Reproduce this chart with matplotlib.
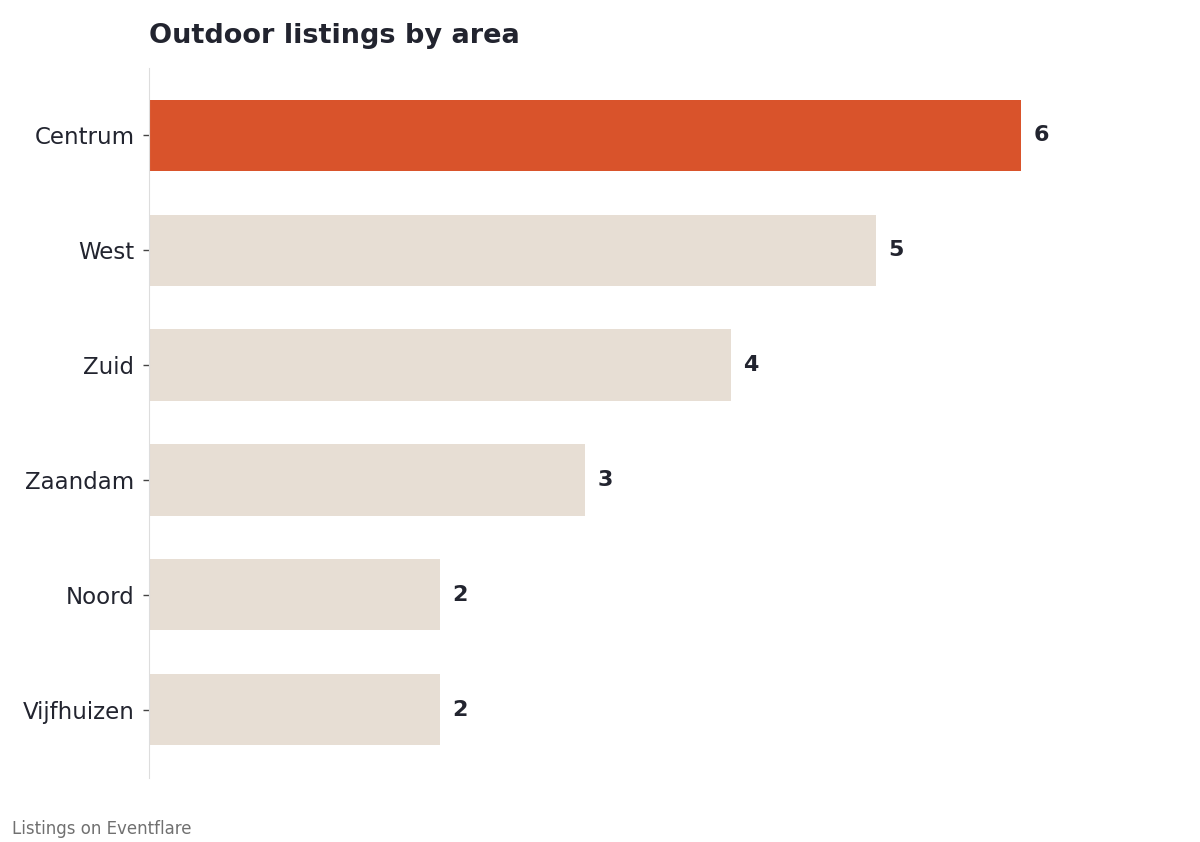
import matplotlib
matplotlib.use("Agg")
import matplotlib.pyplot as plt

areas = ["Centrum", "West", "Zuid", "Zaandam", "Noord", "Vijfhuizen"]
counts = [6, 5, 4, 3, 2, 2]

dark = "#22242f"
highlight = "#d9532b"
muted = "#e7ded4"

fig = plt.figure(figsize=(12, 8.42), dpi=100)
ax = fig.add_axes([0.1242, 1 - 777.5 / 842, 0.836, 710 / 842])

colors = [highlight if i == 0 else muted for i in range(len(areas))]
ypos = list(range(len(areas)))
ax.barh(ypos, counts, height=0.62, color=colors)
ax.invert_yaxis()
ax.set_xlim(0, max(counts) * 1.15)

for y, v in zip(ypos, counts):
    ax.text(v + 0.085, y, str(v), va="center", ha="left",
            fontsize=16, fontweight="bold", color=dark)

ax.set_yticks(ypos)
ax.set_yticklabels(areas, fontsize=16.5, color=dark)
ax.tick_params(axis="y", length=4.5, width=1, color="#444444", pad=6)
ax.set_xticks([])
for side in ["top", "right", "bottom"]:
    ax.spines[side].set_visible(False)
ax.spines["left"].set_color("#dddddd")

fig.text(149 / 1200, 1 - 36 / 842, "Outdoor listings by area", fontsize=19.5,
         fontweight="bold", color=dark, ha="left", va="center")
fig.text(12 / 1200, 1 - 829 / 842, "Listings on Eventflare", fontsize=12,
         color="#707070", ha="left", va="center")

fig.savefig("out.png", dpi=100)
